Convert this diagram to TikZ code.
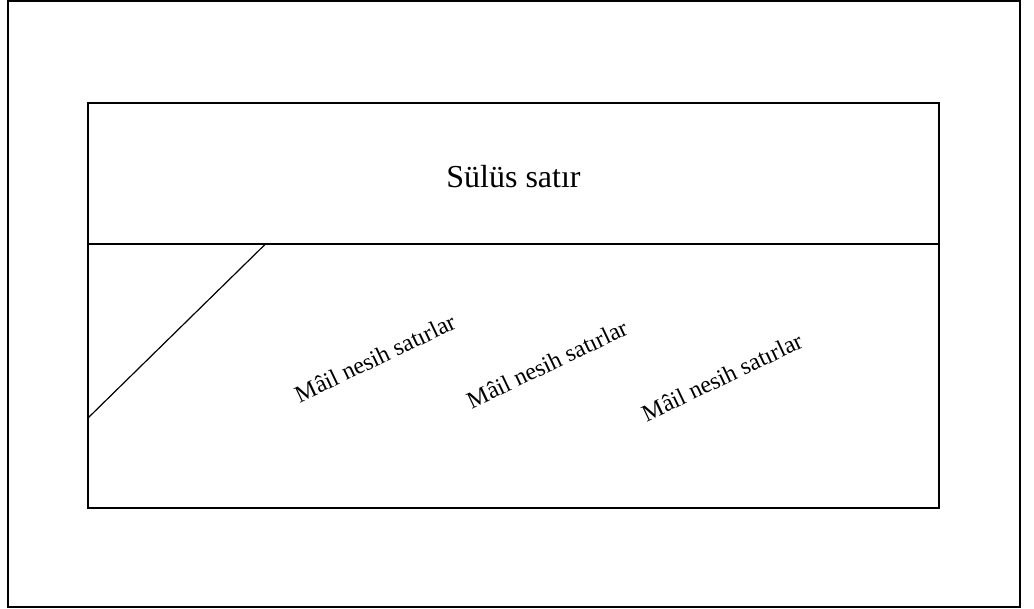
\documentclass[tikz,border=0pt]{standalone}
\usepackage{fontspec}
\setmainfont{Liberation Serif}
\begin{document}
\begin{tikzpicture}[x=1pt,y=-1pt,
  frame/.style={draw=black,line width=2pt},
  rule/.style={draw=black,line width=1.2pt},
  titletext/.style={font=\fontsize{32}{38}\selectfont,inner sep=0pt,anchor=base},
  slanttext/.style={font=\fontsize{24}{28}\selectfont,inner sep=0pt,rotate=25.5}]
  \useasboundingbox (0,0) rectangle (1034,609);
  % outer page border
  \draw[frame] (7.5,1.5) rectangle (1020,607);
  % panel with its header row
  \coordinate (tl) at (87.5,103);
  \coordinate (br) at (939,507.5);
  \draw[frame] (tl) rectangle (br);
  \coordinate (divL) at (87.5,244);
  \coordinate (divR) at (939,244);
  \draw[frame] (divL) -- (divR);
  % corner slash in the lower field
  \coordinate (slashA) at (87.5,418.5);
  \coordinate (slashB) at (265.5,244);
  \draw[rule] (slashA) -- (slashB);
  % labels
  \node[titletext] (title) at (513.5,188) {Sülüs satır};
  \node[slanttext] (line1) at (375,358) {Mâil nesih satırlar};
  \node[slanttext] (line2) at (547,364) {Mâil nesih satırlar};
  \node[slanttext] (line3) at (722,377) {Mâil nesih satırlar};
\end{tikzpicture}
\end{document}
